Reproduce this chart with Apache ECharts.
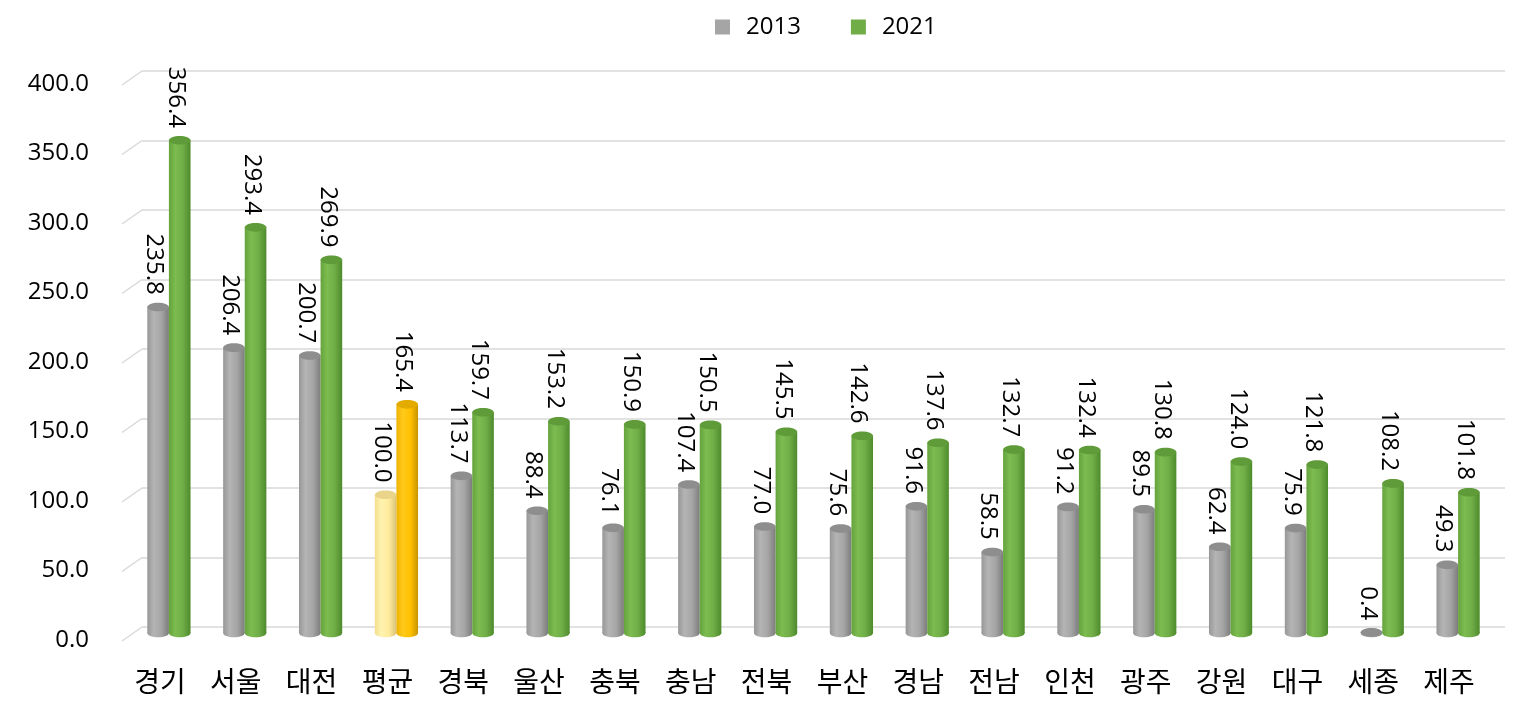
<!DOCTYPE html>
<html>
<head>
<meta charset="utf-8">
<script src="https://cdn.jsdelivr.net/npm/echarts@6/dist/echarts.min.js"></script>
<style>
html,body{margin:0;padding:0;background:#fff;}
#chart{width:1528px;height:717px;}
</style>
</head>
<body>
<div id="chart"></div>
<script>
const categories = ['경기','서울','대전','평균','경북','울산','충북','충남','전북','부산','경남','전남','인천','광주','강원','대구','세종','제주'];
const values2013 = [235.8,206.4,200.7,100.0,113.7,88.4,76.1,107.4,77.0,75.6,91.6,58.5,91.2,89.5,62.4,75.9,0.4,49.3];
const values2021 = [356.4,293.4,269.9,165.4,159.7,153.2,150.9,150.5,145.5,142.6,137.6,132.7,132.4,130.8,124.0,121.8,108.2,101.8];
const seriesNames = ['2013','2021'];
const yTicks = [0,50,100,150,200,250,300,350,400];
const highlightCategory = '평균';

const FONT = '"Noto Sans CJK KR", "Noto Sans", sans-serif';
const NUMFONT = '"Open Sans", "Noto Sans", sans-serif';

const palettes = [
  {
    normal: {stops:['#979797','#b4b4b4','#a5a5a5','#7c7c7c'], top:'#8e8e8e'},
    avg:    {stops:['#f3de8e','#fff3b0','#ffeb9c','#d8c27a'], top:'#ead48a'}
  },
  {
    normal: {stops:['#65a33d','#7cbc50','#70ad47','#4d8a2b'], top:'#5f9b39'},
    avg:    {stops:['#eeb200','#ffca1a','#ffc000','#c79400'], top:'#e3aa00'}
  }
];

function makeRender(si) {
  return function (params, api) {
    const ci = api.value(0);
    const v = api.value(1);
    const base = api.coord([ci, 0]);
    const top = api.coord([ci, v]);
    const band = api.size([1, 0])[0];
    const w = band * 0.285;
    const cx = base[0] + (si === 0 ? -w / 2 : w / 2);
    const ry = w * 0.2;
    const pal = categories[ci] === highlightCategory ? palettes[si].avg : palettes[si].normal;
    const s = pal.stops;
    const grad = new echarts.graphic.LinearGradient(0, 0, 1, 0, [
      {offset: 0, color: s[0]},
      {offset: 0.3, color: s[1]},
      {offset: 0.65, color: s[2]},
      {offset: 1, color: s[3]}
    ]);
    const h = Math.max(base[1] - top[1], 0);
    return {
      type: 'group',
      children: [
        {type: 'ellipse', shape: {cx: cx, cy: base[1], rx: w / 2, ry: ry}, style: {fill: grad}},
        {type: 'rect', shape: {x: cx - w / 2, y: top[1], width: w, height: h}, style: {fill: grad}},
        {type: 'ellipse', shape: {cx: cx, cy: top[1], rx: w / 2, ry: ry}, style: {fill: pal.top}},
        {
          type: 'text',
          x: cx - 4,
          y: top[1] - ry - 8,
          rotation: -Math.PI / 2,
          style: {
            text: v.toFixed(1),
            fontSize: 24,
            fontFamily: NUMFONT,
            fill: '#000',
            align: 'right',
            verticalAlign: 'middle'
          }
        }
      ]
    };
  };
}

function diagRender(params, api) {
  const p = api.coord([0, api.value(1)]);
  return {
    type: 'line',
    shape: {x1: p[0] - 20, y1: p[1] + 14, x2: p[0], y2: p[1]},
    style: {stroke: '#d9d9d9', lineWidth: 1.5}
  };
}

const chart = echarts.init(document.getElementById('chart'));
chart.setOption({
  backgroundColor: '#fff',
  animation: false,
  legend: {
    data: seriesNames,
    left: 710,
    top: 10,
    icon: 'rect',
    itemWidth: 15,
    itemHeight: 15,
    itemGap: 50,
    textStyle: {fontSize: 24, fontFamily: NUMFONT, color: '#000', padding: [0, 0, 0, 11]}
  },
  grid: [
    {left: 142, right: 23, top: 71, bottom: 90},
    {left: 122, right: 41, top: 84, bottom: 77},
    {left: 131, right: 32, top: 80, bottom: 84}
  ],
  xAxis: [
    {gridIndex: 0, type: 'value', min: 0, max: 1, show: false},
    {
      gridIndex: 1, type: 'category', data: categories,
      axisLine: {show: false}, axisTick: {show: false},
      axisLabel: {fontSize: 28, fontFamily: FONT, color: '#000', margin: 27, interval: 0}
    },
    {gridIndex: 2, type: 'category', data: categories, show: false}
  ],
  yAxis: [
    {
      gridIndex: 0, type: 'value', min: 0, max: 400, interval: 50,
      axisLabel: {show: false}, axisLine: {show: false}, axisTick: {show: false},
      splitLine: {show: true, lineStyle: {color: '#d9d9d9', width: 1.5}}
    },
    {
      gridIndex: 1, type: 'value', min: 0, max: 400, interval: 50,
      axisLine: {show: false}, axisTick: {show: false}, splitLine: {show: false},
      axisLabel: {fontSize: 24, fontFamily: NUMFONT, color: '#000', margin: 33, formatter: v => v.toFixed(1)}
    },
    {gridIndex: 2, type: 'value', min: 0, max: 400, show: false}
  ],
  series: [
    {
      type: 'custom', name: 'grid-diag', xAxisIndex: 0, yAxisIndex: 0,
      renderItem: diagRender, data: yTicks.map(v => [0, v]), silent: true, z: 1
    },
    {
      type: 'custom', name: seriesNames[0], xAxisIndex: 2, yAxisIndex: 2,
      itemStyle: {color: '#a5a5a5'},
      renderItem: makeRender(0),
      data: values2013.map((v, i) => [i, v]), z: 3
    },
    {
      type: 'custom', name: seriesNames[1], xAxisIndex: 2, yAxisIndex: 2,
      itemStyle: {color: '#70ad47'},
      renderItem: makeRender(1),
      data: values2021.map((v, i) => [i, v]), z: 3
    }
  ]
});
</script>
</body>
</html>
